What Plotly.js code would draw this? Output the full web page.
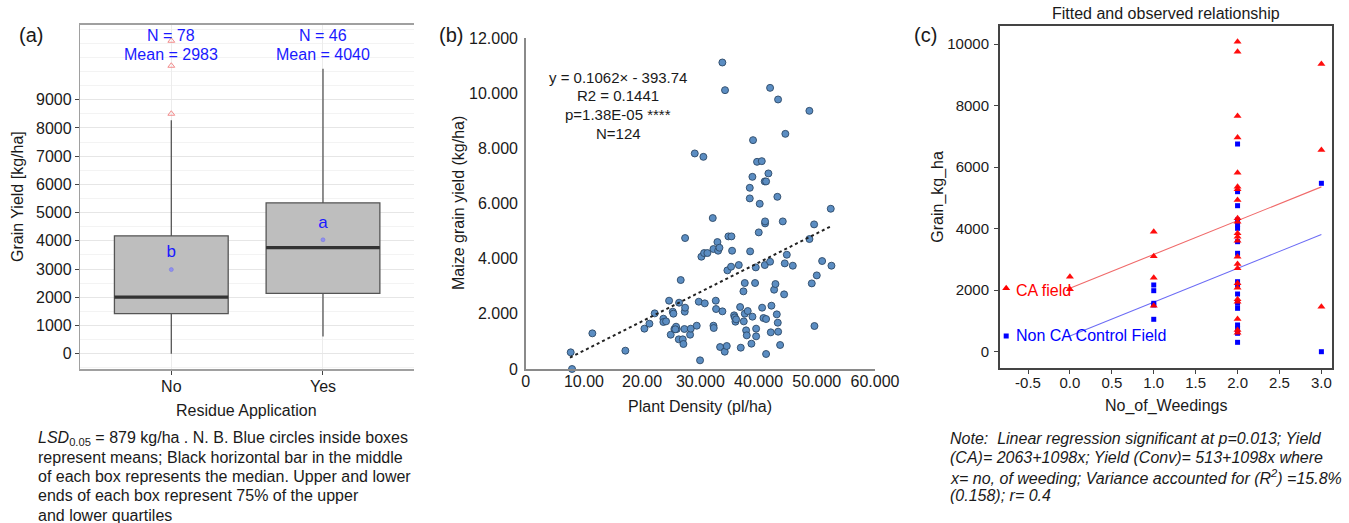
<!DOCTYPE html>
<html>
<head>
<meta charset="utf-8">
<script src="https://cdn.plot.ly/plotly-3.0.1.min.js"></script>
<style>html,body{margin:0;padding:0;background:#fff;}#chart{width:1349px;height:523px;}</style>
</head>
<body>
<div id="chart"></div>
<script>
// ---------- Panel (a): box plot summary ----------
const residueCats = ['No', 'Yes'];
const boxQ1 = [1420, 2140];
const boxMedian = [2005, 3760];
const boxQ3 = [4180, 5350];
const boxLowerWhisker = [0, 615];
const boxUpperWhisker = [8270, 10100];
const groupMeans = [2983, 4040];
const groupN = [78, 46];
const outlierCats = ['No', 'No', 'No'];
const outlierY = [8505, 10205, 11091];
const lsdLetters = ['b', 'a'];
const letterY = [3590, 4600];
const yTicksA = [0, 1000, 2000, 3000, 4000, 5000, 6000, 7000, 8000, 9000];

// ---------- Panel (b): plant density vs yield ----------
const densityX = [33780,34240,41980,43350,48730,44600,39050,29040,30520,39740,40550,38940,41690,41060,41290,38490,43230,38490,40200,
  7730,7960,11450,17120,20390,21250,22160,23650,23650,24110,24630,24910,25260,25370,25540,25950,25830,26350,26290,26630,26980,27090,27260,27320,27380,27380,
  28240,28350,29380,29730,29950,30180,30760,30640,31210,32130,32250,32250,32300,32650,32700,32930,33050,33280,33390,33790,34190,34540,34650,34820,35340,
  35280,35450,35800,35910,36030,36140,36600,36830,36940,37400,37460,37630,37630,37860,37970,38140,38550,38770,38950,39400,39520,39580,39580,40030,40610,
  40840,41070,41120,41120,41290,41290,41980,42100,42210,42670,42900,43130,43300,43360,43700,44160,44390,44500,44850,45880,48740,49140,49540,49600,50000,
  50920,52400,52520,25700];
const yieldB = [11112,10109,10192,9771,9359,8525,8297,7815,7692,7511,7536,6967,7090,6800,6800,6569,6243,6185,5990,
  604,0,1293,664,1462,1643,2017,1824,1703,1727,2476,1244,2078,2005,1450,1450,1534,2404,1075,3225,1075,906,1450,2078,2223,4747,
  1244,1462,1570,2440,314,4071,2380,4204,4204,5472,4349,1570,1486,2476,2174,4602,4288,4397,797,2090,628,833,3576,4808,4808,
  3709,4288,1945,1872,1715,1800,3769,2247,773,2815,1727,3117,2005,1401,1220,2102,4264,918,1897,3117,3684,1462,1184,4953,2223,
  1848,3769,5279,5351,1812,544,3890,1329,2295,2875,3080,1981,1679,1353,870,5351,2706,3829,4143,3745,4711,3104,5243,1558,3394,
  3914,5810,3745,1440];
const trendX = [7600, 52500];
const trendY = [413, 5182];
const xTicksB = [0, 10000, 20000, 30000, 40000, 50000, 60000];
const xTickTextB = ['0', '10.00', '20.00', '30.000', '40.000', '50.000', '60.000'];
const yTicksB = [0, 2000, 4000, 6000, 8000, 10000, 12000];
const yTickTextB = ['0', '2.000', '4.000', '6.000', '8.000', '10.000', '12.000'];
const eqLines = ['y = 0.1062\u00d7 - 393.74', 'R2 = 0.1441', 'p=1.38E-05 ****', 'N=124'];

// ---------- Panel (c): weedings vs yield ----------
const caX = [0,0, 1,1,1,1,
  2,2,2,2,2,2,2,2,2,2,2,2,2,2,2,2,2,2,2,2,2,2,2, 3,3,3];
const caY = [2437,2030, 3900,3100,2405,1495,
  10075,9750,7660,6960,5817,5363,5278,4930,4335,4225,3848,3737,3607,3088,2850,2710,2223,2080,1703,1625,1063,705,618, 9350,6555,1463];
const convX = [1,1,1,1,1, 2,2,2,2,2,2,2,2,2,2,2,2,2,2,2,2,2, 3,3];
const convY = [2168,1983,1573,1520,1053, 6750,5200,4745,4280,4118,4010,3575,3198,2275,2168,1875,1573,1410,868,760,598,305, 5473,0];
const fitX = [0, 3];
const fitCA = [2063, 5357];
const fitConv = [513, 3807];
const keyX = [-0.76];
const keyCA = [2060];
const keyConv = [510];
const xTicksC = [-0.5, 0, 0.5, 1, 1.5, 2, 2.5, 3];
const xTickTextC = ['-0.5', '0.0', '0.5', '1.0', '1.5', '2.0', '2.5', '3.0'];
const yTicksC = [0, 2000, 4000, 6000, 8000, 10000];
const yTickTextC = ['0', '2000', '4000', '6000', '8000', '10000'];

const W = 1349, H = 523;
const FONT = 'Liberation Sans, Arial, Helvetica, sans-serif';
const px = v => v / W;
const py = v => 1 - v / H;

function ann(text, x, y, o) {
  o = o || {};
  return Object.assign({
    text: text, xref: 'paper', yref: 'paper', x: px(x), y: py(y),
    xanchor: 'center', yanchor: 'middle', showarrow: false,
    font: {family: FONT, size: 16, color: '#1a1a1a'}
  }, o);
}

const traces = [
  // (a) boxes
  {type: 'box', x: residueCats, q1: boxQ1, median: boxMedian, q3: boxQ3,
   lowerfence: boxLowerWhisker, upperfence: boxUpperWhisker,
   width: 0.75, whiskerwidth: 0, boxpoints: false,
   fillcolor: '#bebebe', line: {color: '#555555', width: 1.3},
   xaxis: 'x', yaxis: 'y', hoverinfo: 'skip', showlegend: false},
  // (a) thick medians
  {type: 'box', x: residueCats, q1: boxMedian, median: boxMedian, q3: boxMedian,
   lowerfence: boxMedian, upperfence: boxMedian,
   width: 0.75, whiskerwidth: 0, boxpoints: false,
   fillcolor: 'rgba(0,0,0,0)', line: {color: '#333333', width: 3.2},
   xaxis: 'x', yaxis: 'y', hoverinfo: 'skip', showlegend: false},
  // (a) outliers
  {type: 'scatter', mode: 'markers', x: outlierCats, y: outlierY,
   marker: {symbol: 'triangle-up-open', size: 6, color: '#f28b8b', line: {width: 1}},
   xaxis: 'x', yaxis: 'y', showlegend: false},
  // (a) means
  {type: 'scatter', mode: 'markers', x: residueCats, y: groupMeans,
   marker: {symbol: 'circle', size: 4, color: '#9090f0', line: {color: '#7070e0', width: 0.5}},
   xaxis: 'x', yaxis: 'y', showlegend: false},
  // (a) letters
  {type: 'scatter', mode: 'text', x: residueCats, y: letterY, text: lsdLetters,
   textposition: 'middle center', textfont: {family: FONT, size: 17, color: '#1a1aff'},
   xaxis: 'x', yaxis: 'y', showlegend: false},
  // (b) scatter
  {type: 'scatter', mode: 'markers', x: densityX, y: yieldB,
   marker: {symbol: 'circle', size: 7, color: '#5b8dc2', line: {color: '#2c4866', width: 0.9}},
   xaxis: 'x2', yaxis: 'y2', cliponaxis: false, showlegend: false},
  // (b) trend
  {type: 'scatter', mode: 'lines', x: trendX, y: trendY,
   line: {color: '#222222', width: 2, dash: 'dot'},
   xaxis: 'x2', yaxis: 'y2', showlegend: false},
  // (c) fitted lines
  {type: 'scatter', mode: 'lines', x: fitX, y: fitCA,
   line: {color: '#f06a6a', width: 1.1}, xaxis: 'x3', yaxis: 'y3', showlegend: false},
  {type: 'scatter', mode: 'lines', x: fitX, y: fitConv,
   line: {color: '#6c6cf5', width: 1.1}, xaxis: 'x3', yaxis: 'y3', showlegend: false},
  // (c) observed
  {type: 'scatter', mode: 'markers', x: convX, y: convY,
   marker: {symbol: 'square', size: 5, color: '#0000ff'},
   xaxis: 'x3', yaxis: 'y3', cliponaxis: false, showlegend: false},
  {type: 'scatter', mode: 'markers', x: caX, y: caY,
   marker: {symbol: 'triangle-up', size: 7, color: '#ff0000', opacity: 0.95},
   xaxis: 'x3', yaxis: 'y3', cliponaxis: false, showlegend: false},
  // (c) key markers
  {type: 'scatter', mode: 'markers', x: keyX, y: keyCA,
   marker: {symbol: 'triangle-up', size: 7, color: '#ff0000'},
   xaxis: 'x3', yaxis: 'y3', showlegend: false},
  {type: 'scatter', mode: 'markers', x: keyX, y: keyConv,
   marker: {symbol: 'square', size: 5, color: '#0000ff'},
   xaxis: 'x3', yaxis: 'y3', showlegend: false}
];

const tickFont16 = {family: FONT, size: 16, color: '#1a1a1a'};
const tickFont15 = {family: FONT, size: 15, color: '#1a1a1a'};

const annotations = [
  ann('(a)', 31, 35, {font: {family: FONT, size: 20, color: '#1a1a1a'}}),
  ann('(b)', 451, 35, {font: {family: FONT, size: 20, color: '#1a1a1a'}}),
  ann('(c)', 925, 35, {font: {family: FONT, size: 20, color: '#1a1a1a'}}),
  // (a) texts
  ann('Grain Yield [kg/ha]', 17, 197, {textangle: -90}),
  ann('Residue Application', 246.5, 410),
  ann('<i>LSD</i><sub>0.05</sub> = 879 kg/ha . N. B. Blue circles inside boxes', 36, 438, {xanchor: 'left'}),
  ann('represent means; Black horizontal bar in the middle', 36, 457, {xanchor: 'left'}),
  ann('of each box represents the median. Upper and lower', 36, 476.5, {xanchor: 'left'}),
  ann('ends of each box represent 75% of the upper', 36, 495.5, {xanchor: 'left'}),
  ann('and lower quartiles', 36, 515, {xanchor: 'left'}),
  // (b) texts
  ann('Maize grain yield (kg/ha)', 458, 203, {textangle: -90}),
  ann('Plant Density (pl/ha)', 700, 406.5),
  ann(eqLines[0], 618, 77.3, {font: {family: FONT, size: 15, color: '#1a1a1a'}}),
  ann(eqLines[1], 618, 95.7, {font: {family: FONT, size: 15, color: '#1a1a1a'}}),
  ann(eqLines[2], 618, 114.3, {font: {family: FONT, size: 15, color: '#1a1a1a'}}),
  ann(eqLines[3], 618, 134, {font: {family: FONT, size: 15, color: '#1a1a1a'}}),
  // (c) texts
  ann('Fitted and observed relationship', 1166, 14),
  ann('Grain_kg_ha', 938, 196.7, {textangle: -90}),
  ann('No_of_Weedings', 1166, 405.7),
  ann('CA field', 1014, 290, {xanchor: 'left', font: {family: FONT, size: 16, color: '#ff0000'}}),
  ann('Non CA Control Field', 1014, 335, {xanchor: 'left', font: {family: FONT, size: 16, color: '#0000ff'}}),
  ann('<i>Note:  Linear regression significant at p=0.013; Yield</i>', 948, 438.3, {xanchor: 'left'}),
  ann('<i>(CA)= 2063+1098x; Yield (Conv)= 513+1098x where</i>', 948, 457, {xanchor: 'left'}),
  ann('<i>x= no, of weeding; Variance accounted for (R<sup>2</sup>) =15.8%</i>', 948, 476.5, {xanchor: 'left'}),
  ann('<i>(0.158); r= 0.4</i>', 948, 495.7, {xanchor: 'left'})
];

// N / Mean labels above boxes
residueCats.forEach((c, i) => {
  annotations.push({text: 'N = ' + groupN[i], xref: 'x', yref: 'paper', x: c, y: py(35.7),
    xanchor: 'center', yanchor: 'middle', showarrow: false,
    font: {family: FONT, size: 16, color: '#1a1aff'}});
  annotations.push({text: 'Mean = ' + groupMeans[i], xref: 'x', yref: 'paper', x: c, y: py(54.3),
    xanchor: 'center', yanchor: 'middle', showarrow: false,
    font: {family: FONT, size: 16, color: '#1a1aff'}});
});

const layout = {
  width: W, height: H,
  margin: {l: 0, r: 0, t: 0, b: 0},
  paper_bgcolor: '#ffffff', plot_bgcolor: 'rgba(0,0,0,0)',
  showlegend: false, boxmode: 'overlay',
  font: {family: FONT, size: 16, color: '#1a1a1a'},
  xaxis: {domain: [px(80.3), px(414)], anchor: 'y', type: 'category',
    categoryarray: residueCats, categoryorder: 'array', range: [-0.6, 1.6],
    showgrid: true, gridcolor: '#ececec', gridwidth: 1,
    showline: true, linecolor: '#a0a0a0', linewidth: 1.5, mirror: true,
    ticks: 'outside', ticklen: 4, tickcolor: '#444', tickfont: tickFont16, zeroline: false,
    ticklabelstandoff: -2},
  yaxis: {domain: [1 - 369 / H, 1 - 24.7 / H], anchor: 'x', range: [-540, 11660],
    tickmode: 'array', tickvals: yTicksA,
    showgrid: true, gridcolor: '#e6e6e6', gridwidth: 1,
    minor: {tickmode: 'linear', tick0: 0, dtick: 500, showgrid: true, gridcolor: '#f3f3f3', ticks: ''},
    showline: true, linecolor: '#a0a0a0', linewidth: 1.5,
    ticks: 'outside', ticklen: 4, tickcolor: '#444', tickfont: tickFont16, zeroline: false},
  xaxis2: {domain: [px(525.7), px(875)], anchor: 'y2', range: [0, 60000],
    tickmode: 'array', tickvals: xTicksB, ticktext: xTickTextB,
    showgrid: false, zeroline: false, showline: true, linecolor: '#8a8a8a', linewidth: 1.5,
    ticks: '', tickfont: tickFont16, ticklabelstandoff: -3},
  yaxis2: {domain: [1 - 369 / H, 1 - 38 / H], anchor: 'x2', range: [0, 12000],
    tickmode: 'array', tickvals: yTicksB, ticktext: yTickTextB,
    showgrid: false, zeroline: false, showline: true, linecolor: '#8a8a8a', linewidth: 1.5,
    ticks: '', tickfont: tickFont16, ticklabelstandoff: 3},
  xaxis3: {domain: [px(1000), px(1331.7)], anchor: 'y3', range: [-0.834, 3.123],
    tickmode: 'array', tickvals: xTicksC, ticktext: xTickTextC,
    showgrid: false, zeroline: false, showline: true, mirror: true, linecolor: '#444', linewidth: 2,
    ticks: 'outside', ticklen: 4, tickcolor: '#444', tickfont: tickFont15, ticklabelstandoff: -4},
  yaxis3: {domain: [1 - 367.7 / H, 1 - 25.7 / H], anchor: 'x3', range: [-520, 10595],
    tickmode: 'array', tickvals: yTicksC, ticktext: yTickTextC,
    showgrid: false, zeroline: false, showline: true, mirror: true, linecolor: '#444', linewidth: 2,
    ticks: 'outside', ticklen: 4, tickcolor: '#444', tickfont: tickFont15, ticklabelstandoff: 2},
  annotations: annotations
};

Plotly.newPlot('chart', traces, layout, {staticPlot: true, displayModeBar: false});
</script>
</body>
</html>
